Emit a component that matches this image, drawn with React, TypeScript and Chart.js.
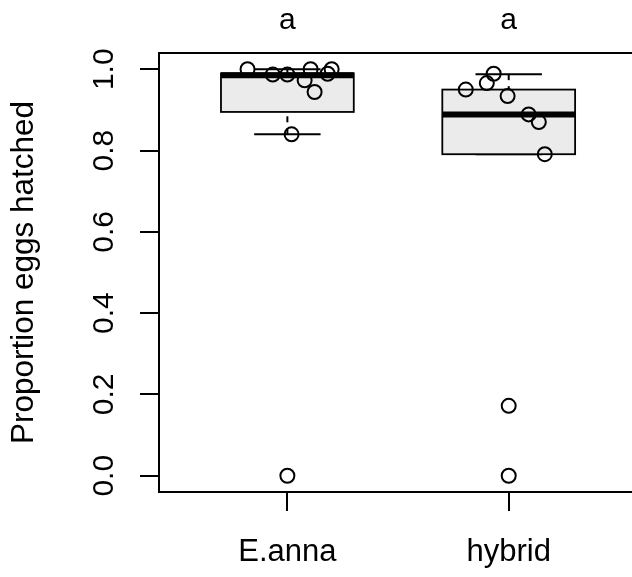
import React, { useEffect, useRef } from "react";
import { Chart, registerables } from "chart.js";

Chart.register(...registerables);

const categories = ["E.anna", "hybrid"];
const groupLetters = ["a", "a"];
const yTickValues = [0, 0.2, 0.4, 0.6, 0.8, 1.0];
const yTickLabels = ["0.0", "0.2", "0.4", "0.6", "0.8", "1.0"];

// raw observations (proportion hatched) and their horizontal jitter
const eannaValues = [1.0, 0.987, 0.987, 1.0, 0.973, 0.944, 1.0, 0.989, 0.84, 0.0];
const eannaJitter = [-0.18, -0.066, 0.0, 0.105, 0.078, 0.123, 0.2, 0.182, 0.019, 0.0];
const hybridValues = [0.989, 0.966, 0.95, 0.934, 0.889, 0.87, 0.791, 0.172, 0.0];
const hybridJitter = [-0.068, -0.099, -0.194, -0.005, 0.09, 0.136, 0.163, 0.0, 0.0];

// box statistics: [lower whisker, Q1, median, Q3, upper whisker]
const eannaBox = [0.84, 0.895, 0.985, 0.99, 1.0];
const hybridBox = [0.791, 0.791, 0.889, 0.95, 0.988];

const FONT = '"Liberation Sans", Arial, Helvetica, sans-serif';

const boxStats = [eannaBox, hybridBox];

const boxPlugin = {
  id: "rBoxes",
  beforeDatasetsDraw(chart: any) {
    const xs = chart.scales.x;
    const ys = chart.scales.y;
    const ctx = chart.ctx;
    ctx.save();
    boxStats.forEach((s, i) => {
      const c = i + 1;
      const xc = xs.getPixelForValue(c);
      const x0 = xs.getPixelForValue(c - 0.3);
      const x1 = xs.getPixelForValue(c + 0.3);
      const sx0 = xs.getPixelForValue(c - 0.15);
      const sx1 = xs.getPixelForValue(c + 0.15);
      const [lw, q1, med, q3, uw] = s.map((v) => ys.getPixelForValue(v));
      ctx.strokeStyle = "#000";
      ctx.lineWidth = 2;
      // whiskers (dashed), drawn from whisker end toward hinge
      ctx.setLineDash([6, 6]);
      if (Math.abs(lw - q1) > 0.5) {
        ctx.beginPath();
        ctx.moveTo(xc, lw);
        ctx.lineTo(xc, q1);
        ctx.stroke();
      }
      if (Math.abs(uw - q3) > 0.5) {
        ctx.beginPath();
        ctx.moveTo(xc, uw);
        ctx.lineTo(xc, q3);
        ctx.stroke();
      }
      ctx.setLineDash([]);
      // staples
      ctx.beginPath();
      ctx.moveTo(sx0, lw);
      ctx.lineTo(sx1, lw);
      ctx.moveTo(sx0, uw);
      ctx.lineTo(sx1, uw);
      ctx.stroke();
      // box
      ctx.fillStyle = "#EBEBEB";
      ctx.fillRect(x0, q3, x1 - x0, q1 - q3);
      ctx.lineWidth = 1.8;
      ctx.strokeRect(x0, q3, x1 - x0, q1 - q3);
      // median
      ctx.lineWidth = 6;
      ctx.lineCap = "butt";
      ctx.beginPath();
      ctx.moveTo(x0, med);
      ctx.lineTo(x1, med);
      ctx.stroke();
    });
    ctx.restore();
  },
  afterDraw(chart: any) {
    const xs = chart.scales.x;
    const ys = chart.scales.y;
    const ctx = chart.ctx;
    const a = chart.chartArea;
    ctx.save();
    // frame (its right side lies beyond the visible page)
    ctx.strokeStyle = "#000";
    ctx.lineWidth = 2;
    ctx.beginPath();
    ctx.moveTo(chart.width + 10, a.top);
    ctx.lineTo(a.left, a.top);
    ctx.lineTo(a.left, a.bottom);
    ctx.lineTo(chart.width + 10, a.bottom);
    ctx.stroke();
    // group letters above plot
    ctx.fillStyle = "#000";
    ctx.font = `30px ${FONT}`;
    ctx.textAlign = "center";
    ctx.textBaseline = "alphabetic";
    groupLetters.forEach((t, i) => {
      ctx.fillText(t, xs.getPixelForValue(i + 1), 29);
    });
    // rotated y tick labels
    yTickValues.forEach((v, i) => {
      const y = ys.getPixelForValue(v);
      ctx.save();
      ctx.translate(112.5, y);
      ctx.rotate(-Math.PI / 2);
      ctx.fillText(yTickLabels[i], 0, 0);
      ctx.restore();
    });
    ctx.restore();
  },
};

export default function App() {
  const ref = useRef<HTMLCanvasElement | null>(null);
  useEffect(() => {
    document.body.style.margin = "0";
    const canvas = ref.current;
    if (!canvas) return;
    const pointStyle = {
      pointRadius: 7,
      pointHoverRadius: 7,
      borderWidth: 2,
      borderColor: "#000",
      backgroundColor: "rgba(0,0,0,0)",
      showLine: false,
      clip: false,
    };
    const chart = new Chart(canvas, {
      type: "scatter",
      data: {
        datasets: [
          {
            label: categories[0],
            data: eannaValues.map((v, i) => ({ x: 1 + eannaJitter[i], y: v })),
            ...pointStyle,
          },
          {
            label: categories[1],
            data: hybridValues.map((v, i) => ({ x: 2 + hybridJitter[i], y: v })),
            ...pointStyle,
          },
        ],
      },
      options: {
        responsive: false,
        animation: false,
        events: [],
        devicePixelRatio: 1,
        layout: { autoPadding: false, padding: { top: 53, right: 0, bottom: 0, left: 0 } },
        plugins: { legend: { display: false }, tooltip: { enabled: false } },
        scales: {
          x: {
            type: "linear",
            position: "bottom",
            min: 0.42,
            max: 2.557,
            afterBuildTicks: (s: any) => {
              s.ticks = categories.map((_, i) => ({ value: i + 1 }));
            },
            afterFit: (s: any) => {
              s.height = 85;
              s.paddingLeft = 0;
              s.paddingRight = 0;
            },
            ticks: {
              callback: (v: any) => categories[Math.round(Number(v)) - 1] ?? "",
              font: { family: FONT, size: 31 },
              color: "#000",
              padding: 23,
              maxRotation: 0,
              minRotation: 0,
              autoSkip: false,
            },
            grid: { drawOnChartArea: false, drawTicks: true, tickLength: 19, color: "#000", lineWidth: 2 },
            border: { display: false },
          },
          y: {
            type: "linear",
            min: -0.04,
            max: 1.04,
            afterBuildTicks: (s: any) => {
              s.ticks = yTickValues.map((v) => ({ value: v }));
            },
            afterFit: (s: any) => {
              s.width = 159;
              s.paddingTop = 0;
              s.paddingBottom = 0;
            },
            ticks: { display: false },
            grid: { drawOnChartArea: false, drawTicks: true, tickLength: 19, color: "#000", lineWidth: 2 },
            border: { display: false },
            title: {
              display: true,
              text: "Proportion eggs hatched",
              font: { family: FONT, size: 31.5 },
              color: "#000",
              padding: { top: 5, bottom: 0 },
            },
          },
        },
      },
      plugins: [boxPlugin],
    } as any);
    return () => chart.destroy();
  }, []);
  return (
    <div style={{ width: 632, height: 577, overflow: "hidden", position: "relative", background: "#fff" }}>
      <canvas ref={ref} width={632} height={577} style={{ display: "block" }} />
    </div>
  );
}
